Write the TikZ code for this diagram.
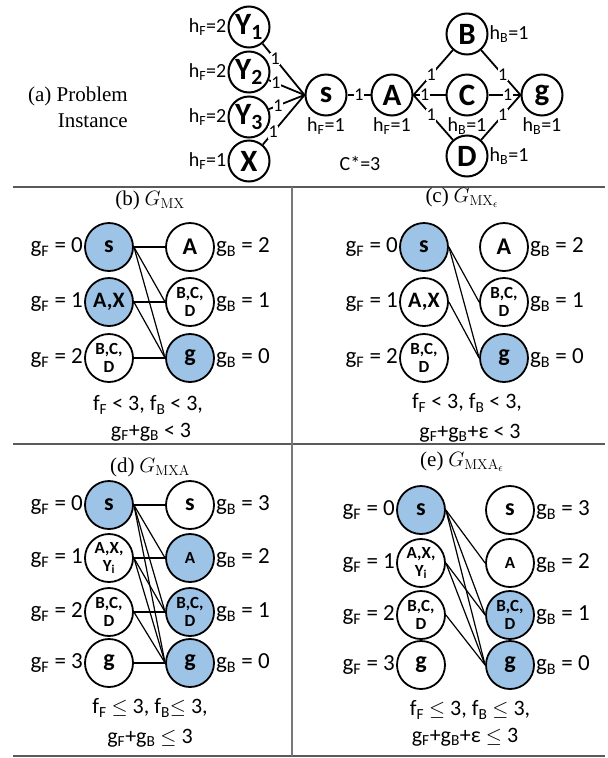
\documentclass[tikz,border=0pt]{standalone}
\usepackage[no-math]{fontspec}
\setmainfont{Carlito}
\newfontfamily\serif{Liberation Serif}
\definecolor{nodeblue}{RGB}{157,195,230}
\definecolor{sepgray}{RGB}{90,90,90}
\definecolor{vgray}{RGB}{120,120,120}
\newcommand\sF{\textsubscript{F}}
\newcommand\sB{\textsubscript{B}}
\tikzset{
  pa/.style={circle,draw,line width=2pt,minimum size=41pt,inner sep=0pt,font=\fontsize{31}{31}\selectfont\bfseries},
  pb/.style={circle,draw,line width=1.8pt,minimum size=48pt,inner sep=0pt,font=\fontsize{24}{24}\selectfont\bfseries},
  pbs/.style={pb,align=center,font=\fontsize{17}{18}\selectfont\bfseries},
  bfill/.style={fill=nodeblue},
  ea/.style={line width=1.8pt},
  eb/.style={line width=1.2pt},
  hl/.style={font=\fontsize{20}{20}\selectfont,inner sep=1pt},
  el/.style={font=\fontsize{18}{18}\selectfont,inner sep=0.6pt},
  elw/.style={el,fill=white},
  gl/.style={font=\fontsize{23}{23}\selectfont,inner sep=1pt},
  captxt/.style={font=\fontsize{22}{22}\selectfont,inner sep=0pt},
  ttl/.style={font=\fontsize{21}{21}\selectfont,inner sep=0pt},
  sepline/.style={draw=sepgray,line width=1.5pt}
}
\begin{document}
\begin{tikzpicture}[x=1pt,y=-1pt]
\useasboundingbox (0,0) rectangle (608,758);
% ---------------- panel separators
\draw[sepline] (13,187) -- (605,187);
\draw[sepline] (13,444) -- (605,444);
\draw[sepline] (13,756) -- (605,756);
\draw[sepline,draw=vgray] (292,187) -- (292,756);
% ---------------- (a)
\node[align=right,inner sep=0pt,font=\serif\fontsize{21}{26}\selectfont,anchor=east] (atitle) at (128,107) {(a) Problem\\Instance};
\node[pa] (Y1) at (249,27) {Y\textsubscript{1}};
\node[pa] (Y2) at (249,72) {Y\textsubscript{2}};
\node[pa] (Y3) at (249,117) {Y\textsubscript{3}};
\node[pa] (X) at (249,161) {X};
\node[pa] (s) at (326,95) {s};
\node[pa] (A) at (392,95) {A};
\node[pa] (B) at (467,34) {B};
\node[pa] (C) at (467,95) {C};
\node[pa] (D) at (467,156) {D};
\node[pa] (g) at (542,95) {g};
\node[hl,anchor=east] (hY1) at (Y1.west) {h\sF=2};
\node[hl,anchor=east] (hY2) at (Y2.west) {h\sF=2};
\node[hl,anchor=east] (hY3) at (Y3.west) {h\sF=2};
\node[hl,anchor=east] (hX) at (X.west) {h\sF=1};
\node[hl,anchor=north] (hs) at (s.south) {h\sF=1};
\node[hl,anchor=north] (hA) at (A.south) {h\sF=1};
\node[hl,anchor=north] (hC) at (C.south) {h\sB=1};
\node[hl,anchor=north] (hg) at (g.south) {h\sB=1};
\node[hl,anchor=west] (hB) at (B.east) {h\sB=1};
\node[hl,anchor=west] (hD) at (D.east) {h\sB=1};
\node[hl] (cstar) at (360,163) {C*=3};
\draw[ea] (Y1) -- node[elw,pos=0.3] {1} (s.west);
\draw[ea] (Y2) -- node[elw,pos=0.2] {1} (s.west);
\draw[ea] (Y3) -- node[elw,pos=0.25] {1} (s.west);
\draw[ea] (X) -- node[elw,pos=0.25] {1} (s.west);
\draw[ea] (s) -- node[elw] {1} (A);
\draw[ea] (A.east) -- node[elw,pos=0.45] {1} (B);
\draw[ea] (A.east) -- node[elw,pos=0.35] {1} (C.west);
\draw[ea] (A.east) -- node[elw,pos=0.45] {1} (D);
\draw[ea] (B) -- node[elw,pos=0.55] {1} (g.west);
\draw[ea] (C) -- node[elw,pos=0.6] {1} (g);
\draw[ea] (D) -- node[elw,pos=0.55] {1} (g.west);
% ---------------- (b)
\node[ttl] (btitle) at (150,200) {{\serif (b)} $G_{\mathrm{MX}}$};
\node[pb,bfill] (bL1) at (109,247) {s};
\node[pb,bfill,font=\fontsize{22}{22}\selectfont\bfseries] (bL2) at (109,302) {A,X};
\node[pbs] (bL3) at (109,358) {B,C,\\D};
\node[pb] (bR1) at (190,247) {A};
\node[pbs] (bR2) at (190,302) {B,C,\\D};
\node[pb,bfill] (bR3) at (190,358) {g};
\node[gl,anchor=east] at (bL1.west) {g\sF{} = 0};
\node[gl,anchor=east] at (bL2.west) {g\sF{} = 1};
\node[gl,anchor=east] at (bL3.west) {g\sF{} = 2};
\node[gl,anchor=west] at (bR1.east) {g\sB{} = 2};
\node[gl,anchor=west] at (bR2.east) {g\sB{} = 1};
\node[gl,anchor=west] at (bR3.east) {g\sB{} = 0};
\node[captxt] (bc1) at (148,405) {f\sF{} < 3, f\sB{} < 3,};
\node[captxt] (bc2) at (151,432) {g\sF+g\sB{} < 3};
\draw[eb] (bL1.east) -- (bR1.west);
\draw[eb] (bL1.east) -- (bR2.west);
\draw[eb] (bL1.east) -- (bR3.west);
\draw[eb] (bL2.east) -- (bR2.west);
\draw[eb] (bL2.east) -- (bR3.west);
\draw[eb] (bL3.east) -- (bR3.west);
% ---------------- (c)
\node[ttl] (ctitle) at (462,198) {{\serif (c)} $G_{\mathrm{MX}_\epsilon}$};
\node[pb,bfill] (cL1) at (424,247) {s};
\node[pb,font=\fontsize{22}{22}\selectfont\bfseries] (cL2) at (424,302) {A,X};
\node[pbs] (cL3) at (424,358) {B,C,\\D};
\node[pb] (cR1) at (504,247) {A};
\node[pbs] (cR2) at (504,302) {B,C,\\D};
\node[pb,bfill] (cR3) at (504,358) {g};
\node[gl,anchor=east] at (cL1.west) {g\sF{} = 0};
\node[gl,anchor=east] at (cL2.west) {g\sF{} = 1};
\node[gl,anchor=east] at (cL3.west) {g\sF{} = 2};
\node[gl,anchor=west] at (cR1.east) {g\sB{} = 2};
\node[gl,anchor=west] at (cR2.east) {g\sB{} = 1};
\node[gl,anchor=west] at (cR3.east) {g\sB{} = 0};
\node[captxt] (cc1) at (467,403) {f\sF{} < 3, f\sB{} < 3,};
\node[captxt] (cc2) at (470,433) {g\sF+g\sB+ε < 3};
\draw[eb] (cL1.east) -- (cR2.west);
\draw[eb] (cL1.east) -- (cR3.west);
\draw[eb] (cL2.east) -- (cR3.west);
% ---------------- (d)
\node[ttl] (dtitle) at (150,467) {{\serif (d)} $G_{\mathrm{MXA}}$};
\node[pb,bfill] (dL1) at (109,505) {s};
\node[pbs] (dL2) at (109,558) {A,X,\\Y\textsubscript{i}};
\node[pbs] (dL3) at (109,612) {B,C,\\D};
\node[pb] (dL4) at (109,663) {g};
\node[pb] (dR1) at (190,505) {s};
\node[pb,bfill,font=\fontsize{17}{17}\selectfont\bfseries] (dR2) at (190,558) {A};
\node[pbs,bfill] (dR3) at (190,612) {B,C,\\D};
\node[pb,bfill] (dR4) at (190,663) {g};
\node[gl,anchor=east] at (dL1.west) {g\sF{} = 0};
\node[gl,anchor=east] at (dL2.west) {g\sF{} = 1};
\node[gl,anchor=east] at (dL3.west) {g\sF{} = 2};
\node[gl,anchor=east] at (dL4.west) {g\sF{} = 3};
\node[gl,anchor=west] at (dR1.east) {g\sB{} = 3};
\node[gl,anchor=west] at (dR2.east) {g\sB{} = 2};
\node[gl,anchor=west] at (dR3.east) {g\sB{} = 1};
\node[gl,anchor=west] at (dR4.east) {g\sB{} = 0};
\node[captxt] (dc1) at (150,708) {f\sF{} $\leq$\ 3, f\sB{}$\leq$\ 3,};
\node[captxt] (dc2) at (150,738) {g\sF+g\sB{} $\leq$\ 3};
\foreach \a/\b in {1/1,1/2,1/3,1/4,2/2,2/3,2/4,3/3,3/4,4/4}
  \draw[eb] (dL\a.east) -- (dR\b.west);
% ---------------- (e)
\node[ttl] (etitle) at (462,462) {{\serif (e)} $G_{\mathrm{MXA}_\epsilon}$};
\node[pb,bfill] (eL1) at (421,510) {s};
\node[pbs] (eL2) at (421,563) {A,X,\\Y\textsubscript{i}};
\node[pbs] (eL3) at (421,615) {B,C,\\D};
\node[pb] (eL4) at (421,665) {g};
\node[pb] (eR1) at (510,510) {s};
\node[pb,font=\fontsize{17}{17}\selectfont\bfseries] (eR2) at (510,563) {A};
\node[pbs,bfill] (eR3) at (510,615) {B,C,\\D};
\node[pb,bfill] (eR4) at (510,665) {g};
\node[gl,anchor=east] at (eL1.west) {g\sF{} = 0};
\node[gl,anchor=east] at (eL2.west) {g\sF{} = 1};
\node[gl,anchor=east] at (eL3.west) {g\sF{} = 2};
\node[gl,anchor=east] at (eL4.west) {g\sF{} = 3};
\node[gl,anchor=west] at (eR1.east) {g\sB{} = 3};
\node[gl,anchor=west] at (eR2.east) {g\sB{} = 2};
\node[gl,anchor=west] at (eR3.east) {g\sB{} = 1};
\node[gl,anchor=west] at (eR4.east) {g\sB{} = 0};
\node[captxt] (ec1) at (470,710) {f\sF{} $\leq$ 3, f\sB{} $\leq$ 3,};
\node[captxt] (ec2) at (465,737) {g\sF+g\sB+ε $\leq$ 3};
\foreach \a/\b in {1/2,1/3,1/4,2/3,2/4,3/4}
  \draw[eb] (eL\a.east) -- (eR\b.west);
\end{tikzpicture}
\end{document}
